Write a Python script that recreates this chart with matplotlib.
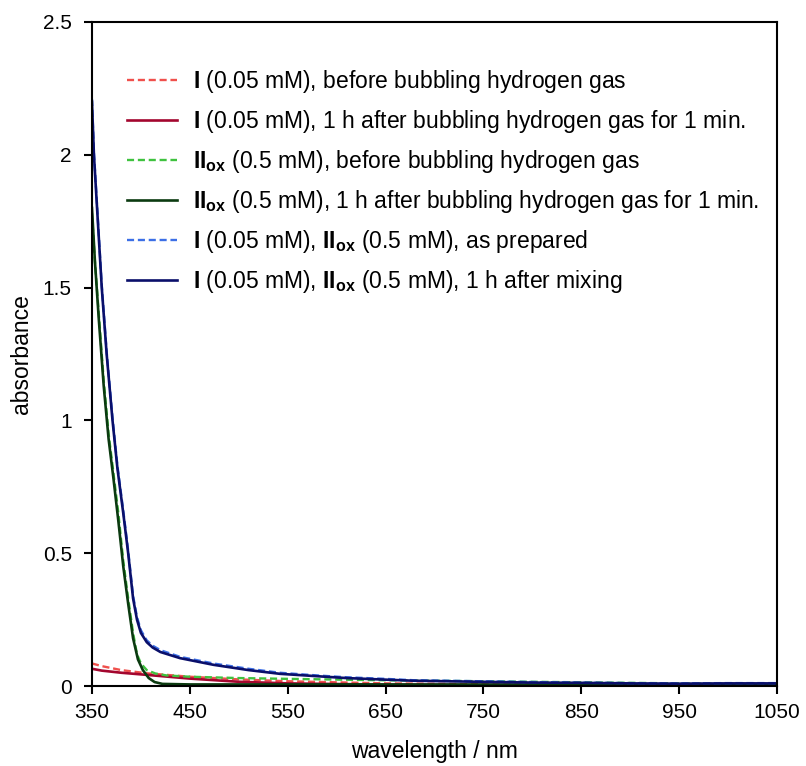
import numpy as np
import matplotlib.pyplot as plt

plt.rcParams['font.family'] = ['Liberation Sans', 'DejaVu Sans']
plt.rcParams['mathtext.fontset'] = 'custom'
plt.rcParams['mathtext.rm'] = 'Liberation Sans'
plt.rcParams['mathtext.bf'] = 'Liberation Sans:bold'

# I (0.05 mM), before bubbling
wl_i_before = [350, 360, 380, 406, 450, 500, 550, 650, 750, 850, 950, 1050]
ab_i_before = [0.085, 0.075, 0.060, 0.048, 0.035, 0.025, 0.018, 0.010, 0.007, 0.005, 0.004, 0.003]

# I (0.05 mM), 1 h after bubbling
wl_i_after = [350, 360, 380, 406, 450, 500, 550, 650, 850, 1050]
ab_i_after = [0.065, 0.058, 0.050, 0.042, 0.028, 0.016, 0.010, 0.005, 0.003, 0.002]

# IIox (0.5 mM), before bubbling
wl_ii_before = [350, 353, 357, 362, 367, 372, 377, 382, 387, 392, 396, 400, 406,
                415, 426, 450, 500, 550, 644, 750, 850, 950, 1050]
ab_ii_before = [1.78, 1.60, 1.40, 1.15, 0.95, 0.80, 0.65, 0.47, 0.33, 0.20, 0.12,
                0.085, 0.060, 0.047, 0.040, 0.035, 0.030, 0.027, 0.022, 0.018,
                0.014, 0.010, 0.008]

# IIox (0.5 mM), 1 h after bubbling
wl_ii_after = [350, 353, 357, 362, 367, 372, 377, 382, 387, 392, 397, 402, 408,
               414, 422, 450, 600, 1050]
ab_ii_after = [1.80, 1.60, 1.38, 1.13, 0.93, 0.78, 0.62, 0.45, 0.31, 0.18, 0.10,
               0.06, 0.03, 0.015, 0.008, 0.006, 0.006, 0.005]

# I + IIox, as prepared
wl_mix_prep = [350, 352, 356, 360, 365, 371, 376, 382, 387, 392, 396, 400, 406,
               412, 420, 440, 474, 510, 542, 580, 610, 650, 678, 746, 800, 850,
               900, 950, 1000, 1050]
ab_mix_prep = [2.21, 2.01, 1.76, 1.51, 1.26, 1.01, 0.83, 0.66, 0.51, 0.34, 0.26,
               0.21, 0.172, 0.152, 0.135, 0.110, 0.085, 0.065, 0.050, 0.040,
               0.033, 0.027, 0.022, 0.018, 0.015, 0.013, 0.011, 0.010, 0.011, 0.011]

# I + IIox, 1 h after mixing
wl_mix_after = [350, 352, 356, 360, 365, 371, 376, 382, 387, 392, 396, 400, 406,
                412, 420, 440, 474, 510, 542, 580, 610, 650, 678, 746, 800, 850,
                900, 950, 1000, 1050]
ab_mix_after = [2.20, 2.00, 1.75, 1.50, 1.25, 1.00, 0.82, 0.65, 0.50, 0.33, 0.25,
                0.20, 0.165, 0.145, 0.128, 0.105, 0.080, 0.060, 0.046, 0.037,
                0.030, 0.024, 0.020, 0.016, 0.013, 0.012, 0.010, 0.009, 0.010, 0.010]

labels = [
    r'$\mathbf{I}$ (0.05 mM), before bubbling hydrogen gas',
    r'$\mathbf{I}$ (0.05 mM), 1 h after bubbling hydrogen gas for 1 min.',
    r'$\mathbf{II}_{\mathbf{ox}}$ (0.5 mM), before bubbling hydrogen gas',
    r'$\mathbf{II}_{\mathbf{ox}}$ (0.5 mM), 1 h after bubbling hydrogen gas for 1 min.',
    r'$\mathbf{I}$ (0.05 mM), $\mathbf{II}_{\mathbf{ox}}$ (0.5 mM), as prepared',
    r'$\mathbf{I}$ (0.05 mM), $\mathbf{II}_{\mathbf{ox}}$ (0.5 mM), 1 h after mixing',
]

fig = plt.figure(figsize=(8.06, 7.66), dpi=100)
ax = fig.add_axes([0.1141, 0.1044, 0.8499, 0.8669])

ax.plot(wl_i_before, ab_i_before, color='#f0504c', ls=(0, (3, 1.6)), lw=1.7, label=labels[0])
ax.plot(wl_i_after, ab_i_after, color='#a3062e', lw=1.9, label=labels[1])
ax.plot(wl_ii_before, ab_ii_before, color='#3fc23f', ls=(0, (3, 1.6)), lw=1.7, label=labels[2])
ax.plot(wl_ii_after, ab_ii_after, color='#0b3a10', lw=1.9, label=labels[3])
ax.plot(wl_mix_prep, ab_mix_prep, color='#3c6fe6', ls=(0, (3, 1.6)), lw=1.7, label=labels[4])
ax.plot(wl_mix_after, ab_mix_after, color='#0a0f6a', lw=1.9, label=labels[5])

ax.set_xlim(350, 1050)
ax.set_ylim(0, 2.5)
ax.set_xticks(np.arange(350, 1051, 100))
ax.set_yticks([0, 0.5, 1, 1.5, 2, 2.5])
ax.set_yticklabels(['0', '0.5', '1', '1.5', '2', '2.5'])
ax.tick_params(direction='out', length=5.5, width=1.5, labelsize=15)
ax.tick_params(axis='y', pad=9)
ax.tick_params(axis='x', pad=7)
for s in ax.spines.values():
    s.set_linewidth(1.5)
ax.set_xlabel('wavelength / nm', fontsize=16.5, labelpad=13)
ax.set_ylabel('absorbance', fontsize=16.5, labelpad=7)

ax.legend(loc='upper left', bbox_to_anchor=(0.051, 0.931), frameon=False,
          fontsize=16.5, handlelength=2.2, labelspacing=0.57, handletextpad=0.7,
          borderpad=0, borderaxespad=0)

fig.savefig('out.png', dpi=100)
